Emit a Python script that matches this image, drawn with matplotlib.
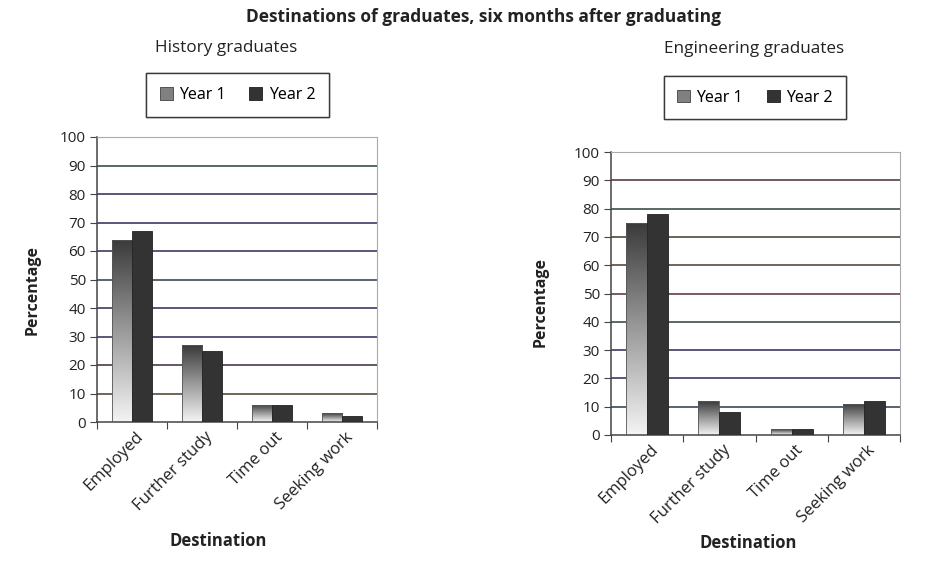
import matplotlib
matplotlib.use("Agg")
import matplotlib.pyplot as plt
import numpy as np
from matplotlib.patches import Patch
from matplotlib.colors import LinearSegmentedColormap

plt.rcParams['font.family'] = ['Open Sans', 'DejaVu Sans']

categories = ["Employed", "Further study", "Time out", "Seeking work"]
series_names = ["Year 1", "Year 2"]
history_y1 = [64, 27, 6, 3]
history_y2 = [67, 25, 6, 2]
eng_y1 = [75, 12, 2, 11]
eng_y2 = [78, 8, 2, 12]
yticks = list(range(0, 101, 10))

grid_colors_left = ['#3a3a3a', '#4a3a2a', '#3a2a3a', '#2a2a5a', '#2a2a5a', '#2a3a4a',
                    '#2a2a5a', '#2a2a5a', '#2a2a5a', '#2a4040', '#888888']
grid_colors_right = ['#3a3a3a', '#2a3a4a', '#2a2a5a', '#2a2a5a', '#2a4040', '#5a2a3a',
                     '#4a3a2a', '#3a3a2a', '#2a4040', '#4a2a3a', '#888888']

cmap = LinearSegmentedColormap.from_list("g", ["#f4f4f4", "#9a9a9a", "#3a3a3a"])
grad = np.linspace(0, 1, 256).reshape(-1, 1)

fig = plt.figure(figsize=(9.36, 5.64), dpi=100)

def draw(ax, y1, y2, gcols):
    x = np.arange(len(categories))
    w = 0.29
    for v, c in zip(yticks[1:], gcols[1:]):
        if v < 100:
            ax.axhline(v, color=c, lw=1.1, zorder=0)
    bars1 = ax.bar(x - w / 2, y1, w, facecolor='none', edgecolor='#555555', lw=0.6, zorder=3)
    ax.bar(x + w / 2, y2, w, color='#333333', edgecolor='#222222', lw=0.6, zorder=3)
    for b in bars1:
        x0, y0 = b.get_x(), b.get_y()
        im = ax.imshow(grad, extent=(x0, x0 + b.get_width(), y0, y0 + b.get_height()),
                       origin='lower', cmap=cmap, aspect='auto', zorder=2)
        im.set_clip_path(b)
    ax.set_xlim(-0.5, len(categories) - 0.5)
    ax.set_ylim(0, 100)
    ax.set_yticks(yticks)
    ax.set_yticklabels([str(v) for v in yticks], fontsize=11, color='#222222')
    ax.set_xticks(np.arange(-0.5, len(categories), 1.0))
    ax.set_xticklabels([])
    ax.set_xticks(x + 0.04, minor=True)
    ax.set_xticklabels(categories, minor=True, rotation=45, ha='right', rotation_mode='anchor',
                       fontsize=12, color='#222222')
    ax.tick_params(axis='x', which='minor', length=0, pad=5)
    ax.tick_params(axis='x', which='major', length=5, color='#444444', direction='out')
    ax.tick_params(axis='y', length=5, color='#444444', direction='out', pad=3)
    for s in ['left', 'bottom']:
        ax.spines[s].set_color('#444444')
        ax.spines[s].set_linewidth(1.1)
    for s in ['top', 'right']:
        ax.spines[s].set_color('#aaaaaa')
        ax.spines[s].set_linewidth(0.8)

ax1 = fig.add_axes([97 / 936, 1 - 422 / 564, 280 / 936, 285 / 564])
draw(ax1, history_y1, history_y2, grid_colors_left)
ax2 = fig.add_axes([611 / 936, 1 - 435 / 564, 289 / 936, 283 / 564])
draw(ax2, eng_y1, eng_y2, grid_colors_right)

def ftext(px, py, s, **kw):
    fig.text(px / 936, 1 - py / 564, s, ha='center', va='center', color='#222222', **kw)

ftext(483, 17, "Destinations of graduates, six months after graduating", fontsize=12.5, fontweight='bold')
ftext(226, 48, "History graduates", fontsize=12.3)
ftext(754, 49, "Engineering graduates", fontsize=12.3)
ftext(218, 541, "Destination", fontsize=12, fontweight='bold')
ftext(748, 543, "Destination", fontsize=12, fontweight='bold')
ftext(33, 290, "Percentage", fontsize=11.5, fontweight='bold', rotation=90)
ftext(541, 302, "Percentage", fontsize=11.5, fontweight='bold', rotation=90)

handles = [Patch(facecolor='#808080', edgecolor='#444444', lw=0.6),
           Patch(facecolor='#333333', edgecolor='#222222', lw=0.6)]
for cx, cy in [(237.5, 95), (755, 97.5)]:
    leg = fig.legend(handles, series_names, loc='center', bbox_to_anchor=(cx / 936, 1 - cy / 564),
                     ncol=2, frameon=True, fancybox=False, fontsize=11.5, handlelength=0.8,
                     handleheight=0.8, handletextpad=0.4, columnspacing=1.5,
                     borderpad=0.85, edgecolor='#222222')
    leg.get_frame().set_linewidth(1.0)
    fig.add_artist(leg)

fig.savefig("out.png", dpi=100)
